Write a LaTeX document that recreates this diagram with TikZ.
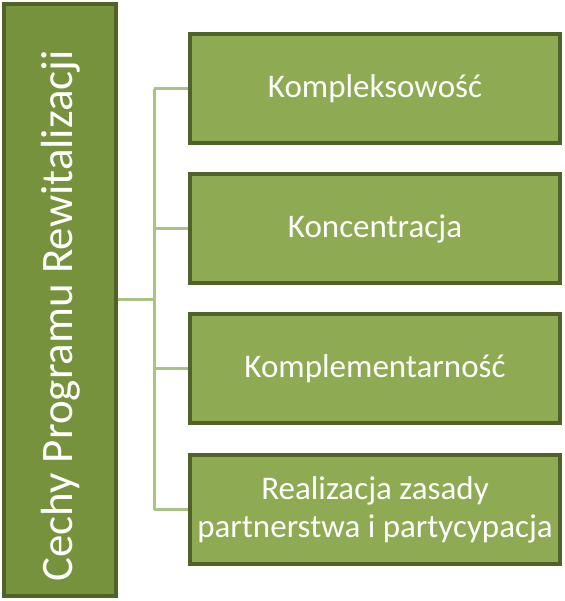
\documentclass[tikz,border=0pt]{standalone}
\usepackage{fontspec}
\setmainfont{Carlito}
\usepackage{xcolor}
\definecolor{olivedark}{HTML}{4F6228}
\definecolor{olivemain}{HTML}{76923C}
\definecolor{olivebox}{HTML}{8EAA52}
\definecolor{olivelink}{HTML}{A8C382}

\begin{document}
\begin{tikzpicture}[x=1pt, y=1pt,
		mainbox/.style={draw=olivedark, line width=4pt, fill=olivemain, text=white,
			minimum width=112pt, minimum height=592pt, inner sep=0pt},
		featbox/.style={draw=olivedark, line width=4pt, fill=olivebox, text=white,
			minimum width=370pt, minimum height=109pt, align=center,
			font=\fontsize{33}{38}\selectfont},
		link/.style={olivelink, line width=3pt}]
				\useasboundingbox (0,0) rectangle (564,601);
				
				% Main box
				\node[mainbox] (main) at (60,301) {};
				\node[rotate=90, anchor=base west, inner sep=0pt, text=white, font=\fontsize{45}{50}\selectfont] (title) at (72,19) {Cechy Programu Rewitalizacji};
				
				% Feature boxes
				\node[featbox] (komp) at (375,512) {Kompleksowość};
				\node[featbox] (konc) at (375,372) {Koncentracja};
				\node[featbox] (kompl) at (375,232) {Komplementarność};
				\node[featbox] (real) at (375,91) {Realizacja zasady\\partnerstwa i partycypacja};
				
				% Connectors
				\coordinate (trunk) at (154,301);
				\draw[link] (main.east) -- (trunk);
				\draw[link] (trunk |- komp.west) -- (trunk |- real.west);
				\draw[link] (trunk |- komp.west) -- (komp.west);
				\draw[link] (trunk |- konc.west) -- (konc.west);
				\draw[link] (trunk |- kompl.west) -- (kompl.west);
				\draw[link] (trunk |- real.west) -- (real.west);
			\end{tikzpicture}
\end{document}
